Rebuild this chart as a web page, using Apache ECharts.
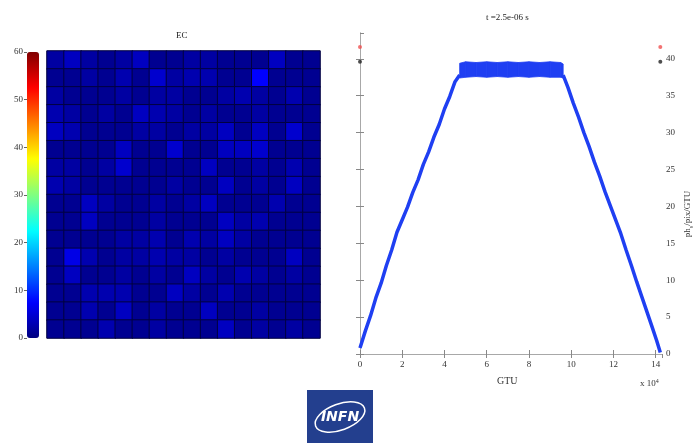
<!DOCTYPE html>
<html>
<head>
<meta charset="utf-8">
<script src="https://cdn.jsdelivr.net/npm/echarts@6/dist/echarts.min.js"></script>
<style>
  html, body { margin: 0; padding: 0; background: #ffffff; }
  #chart { width: 699px; height: 443px; }
</style>
</head>
<body>
<div id="chart"></div>
<script>
// Focal-surface counts (EC, 16 x 16 pixels), rows listed top to bottom
const ecRows = [
  [2.0,3.8,2.0,1.0,2.0,3.8,1.0,1.0,2.0,2.0,1.0,1.0,1.0,3.8,1.0,1.0],
  [1.0,1.0,2.0,1.0,2.8,1.0,4.6,2.0,2.8,2.8,1.0,1.0,7.5,1.0,1.0,1.0],
  [2.0,1.0,1.0,1.0,2.0,1.0,2.0,2.0,1.0,1.0,2.0,2.8,2.0,1.0,2.8,1.0],
  [2.8,2.0,1.0,2.0,1.0,3.8,2.8,2.0,1.0,2.0,1.0,1.0,2.0,1.0,1.0,1.0],
  [3.8,2.8,1.0,1.0,1.0,2.0,2.0,1.0,2.0,2.0,3.8,1.0,3.8,1.0,4.6,1.0],
  [1.0,1.0,1.0,1.0,3.8,1.0,1.0,4.6,1.0,1.0,3.8,3.8,4.6,1.0,1.0,1.0],
  [2.0,2.0,1.0,2.0,4.6,1.0,1.0,1.0,1.0,3.8,1.0,1.0,2.0,1.0,2.8,1.0],
  [2.8,2.0,1.0,1.0,1.0,1.0,1.0,2.0,1.0,1.0,3.8,1.0,2.0,1.0,3.8,1.0],
  [1.0,1.0,3.8,2.0,1.0,1.0,2.0,1.0,2.0,3.8,1.0,1.0,1.0,2.8,1.0,1.0],
  [1.0,1.0,3.8,1.0,1.0,1.0,2.0,1.0,1.0,1.0,3.8,2.0,2.8,1.0,1.0,1.0],
  [1.0,1.0,1.0,1.0,2.0,2.0,2.8,1.0,2.8,2.0,3.8,2.0,1.0,1.0,1.0,1.0],
  [1.0,6.0,2.8,1.0,2.0,2.0,2.8,2.0,2.0,1.0,2.0,1.0,1.0,1.0,3.8,1.0],
  [1.0,3.8,1.0,1.0,2.0,1.0,2.0,1.0,3.8,2.0,1.0,2.8,2.0,1.0,2.0,1.0],
  [1.0,1.0,2.8,2.8,2.8,1.0,1.0,3.8,2.0,1.0,2.8,1.0,1.0,1.0,1.0,1.0],
  [1.0,1.0,2.8,1.0,3.8,1.0,2.0,1.0,1.0,3.8,1.0,1.0,2.0,1.0,1.0,1.0],
  [1.0,1.0,1.0,2.8,1.0,1.0,2.0,1.0,1.0,1.0,3.8,1.0,2.0,1.0,2.0,1.0]
];
const colorbarTicks = [0, 10, 20, 30, 40, 50, 60];

// Light curve, GTU in units of 1e4
const riseGtu = [0, 0.25, 0.5, 0.75, 1.0, 1.25, 1.5, 1.75, 2.0, 2.25, 2.5, 2.75, 3.0, 3.25, 3.5, 3.75, 4.0, 4.25, 4.5, 4.72];
const riseCounts = [0.8, 3.1, 5.2, 7.6, 9.6, 12.0, 14.1, 16.5, 18.2, 19.9, 21.9, 23.6, 25.7, 27.4, 29.4, 31.1, 33.2, 34.9, 36.9, 37.8];
const plateauGtu = [4.72, 5.0, 5.5, 6.0, 6.5, 7.0, 7.5, 8.0, 8.5, 9.0, 9.5, 9.62];
const plateauLow = [37.4, 37.5, 37.6, 37.5, 37.6, 37.5, 37.6, 37.5, 37.6, 37.5, 37.5, 37.4];
const plateauHigh = [39.4, 39.6, 39.5, 39.6, 39.5, 39.6, 39.5, 39.6, 39.5, 39.6, 39.5, 39.3];
const fallGtu = [9.62, 9.85, 10.1, 10.35, 10.6, 10.85, 11.1, 11.35, 11.6, 11.85, 12.1, 12.35, 12.6, 12.85, 13.1, 13.35, 13.6, 13.85, 14.05, 14.22];
const fallCounts = [37.8, 36.1, 34.0, 32.1, 30.0, 28.1, 26.0, 24.1, 22.0, 20.1, 18.2, 16.3, 14.1, 12.0, 9.8, 7.7, 5.6, 3.5, 1.8, 0.2];
const maxMarks = [[0.0, 39.6], [14.22, 39.6]];
const thresholdMarks = [[0.0, 41.6], [14.22, 41.6]];
const gtuTicks = [0, 2, 4, 6, 8, 10, 12, 14];

const jet = ['#000080', '#0000ff', '#0080ff', '#00ffff', '#80ff80', '#ffff00', '#ff8000', '#ff0000', '#800000'];
const serif = 'Liberation Serif';
const lineBlue = '#1f3ff2';
const boxGray = '#a8a8a8';

const ecData = [];
ecRows.forEach((row, r) => row.forEach((v, c) => ecData.push([c, r, v])));
const idx = Array.from({ length: 16 }, (_, i) => i);

// one band segment per pair of neighbouring plateau samples
const plateauSegments = plateauGtu.slice(0, -1).map((x, i) => [
  x, plateauGtu[i + 1], plateauLow[i], plateauLow[i + 1], plateauHigh[i], plateauHigh[i + 1]
]);

const chart = echarts.init(document.getElementById('chart'), null, { renderer: 'canvas' });

const tickFont = { fontFamily: serif, fontSize: 9, color: '#333' };

chart.setOption({
  animation: false,
  backgroundColor: '#ffffff',
  grid: [
    { left: 47, top: 51, width: 273, height: 287, show: true, borderColor: '#d0d0d0', borderWidth: 1, backgroundColor: 'transparent' },
    { left: 27, top: 52, width: 12, height: 286 },
    { left: 360, top: 33, width: 302, height: 321 }
  ],
  xAxis: [
    { gridIndex: 0, type: 'category', data: idx, show: false },
    { gridIndex: 1, type: 'value', show: false },
    {
      gridIndex: 2, type: 'value', min: 0, max: 14.3, interval: 2, position: 'bottom',
      axisLine: { lineStyle: { color: boxGray } },
      axisTick: { inside: true, length: 4, lineStyle: { color: '#888' } },
      axisLabel: { ...tickFont, margin: 6, showMaxLabel: false,
        formatter: v => gtuTicks.includes(v) ? String(v) : '' },
      splitLine: { show: false }
    },
    {
      gridIndex: 2, type: 'value', min: 0, max: 14.3, interval: 2, position: 'top',
      axisLine: { lineStyle: { color: boxGray } },
      axisTick: { inside: true, length: 4, lineStyle: { color: '#888' } },
      axisLabel: { show: false }, splitLine: { show: false }
    }
  ],
  yAxis: [
    { gridIndex: 0, type: 'category', data: idx, inverse: true, show: false },
    {
      gridIndex: 1, type: 'value', min: 0, max: 60, interval: 10, position: 'left',
      axisLine: { show: false },
      axisTick: { show: true, length: 3, lineStyle: { color: '#666' } },
      axisLabel: { ...tickFont, margin: 4, formatter: v => colorbarTicks.includes(v) ? String(v) : '' },
      splitLine: { show: false }
    },
    {
      gridIndex: 2, type: 'value', min: 0, max: 43.5, interval: 5, position: 'right',
      axisLine: { show: true, lineStyle: { color: boxGray } },
      axisTick: { inside: true, length: 4, lineStyle: { color: '#888' } },
      axisLabel: { ...tickFont, margin: 4, showMaxLabel: false },
      splitLine: { show: false }
    },
    {
      gridIndex: 2, type: 'value', min: 0, max: 43.5, interval: 5, position: 'left',
      axisLine: { show: true, lineStyle: { color: boxGray } },
      axisTick: { inside: true, length: 4, lineStyle: { color: '#888' } },
      axisLabel: { show: false }, splitLine: { show: false }
    }
  ],
  visualMap: {
    type: 'continuous', seriesIndex: 0, min: 0, max: 60,
    calculable: false, showLabel: false, text: ['', ''],
    left: 27, top: 52, itemWidth: 12, itemHeight: 286, padding: 0,
    inRange: { color: jet }
  },
  series: [
    {
      type: 'heatmap', xAxisIndex: 0, yAxisIndex: 0, data: ecData,
      itemStyle: { borderColor: '#000040', borderWidth: 1 },
      emphasis: { disabled: true }
    },
    {
      type: 'line', xAxisIndex: 2, yAxisIndex: 2, showSymbol: false,
      data: riseGtu.map((x, i) => [x, riseCounts[i]]),
      lineStyle: { color: lineBlue, width: 3.5 }
    },
    {
      type: 'custom', xAxisIndex: 2, yAxisIndex: 2, data: plateauSegments,
      encode: { x: [0, 1], y: [2, 3, 4, 5] },
      renderItem: (params, api) => {
        const p1 = api.coord([api.value(0), api.value(4)]);
        const p2 = api.coord([api.value(1), api.value(5)]);
        const p3 = api.coord([api.value(1), api.value(3)]);
        const p4 = api.coord([api.value(0), api.value(2)]);
        return {
          type: 'polygon',
          shape: { points: [p1, p2, p3, p4] },
          style: { fill: lineBlue, stroke: lineBlue, lineWidth: 0.8 }
        };
      }
    },
    {
      type: 'line', xAxisIndex: 2, yAxisIndex: 2, showSymbol: false,
      data: fallGtu.map((x, i) => [x, fallCounts[i]]),
      lineStyle: { color: lineBlue, width: 3.5 }
    },
    {
      type: 'scatter', xAxisIndex: 2, yAxisIndex: 2, data: maxMarks,
      symbolSize: 4, itemStyle: { color: '#222' }
    },
    {
      type: 'scatter', xAxisIndex: 2, yAxisIndex: 2, data: thresholdMarks,
      symbolSize: 4, itemStyle: { color: '#f05050' }
    }
  ],
  graphic: [
    { type: 'text', left: 176, top: 31, style: { text: 'EC', font: '9px "Liberation Serif"', fill: '#222' } },
    { type: 'text', left: 486, top: 13, style: { text: 't =2.5e-06 s', font: '9px "Liberation Serif"', fill: '#222' } },
    { type: 'text', left: 497, top: 376, style: { text: 'GTU', font: '10px "Liberation Serif"', fill: '#333' } },
    {
      type: 'text', left: 640, top: 378,
      style: {
        text: 'x 10{sup|4}', font: '9px "Liberation Serif"', fill: '#333',
        rich: { sup: { fontSize: 6, verticalAlign: 'top', padding: [0, 0, 6, 0], fontFamily: serif } }
      }
    },
    {
      type: 'text', x: 688, y: 214, rotation: Math.PI / 2,
      style: {
        text: 'ph{sub|s}/pix/GTU', font: '9px "Liberation Serif"', fill: '#333',
        align: 'center', verticalAlign: 'middle',
        rich: { sub: { fontSize: 6, fontFamily: serif, padding: [6, 0, 0, 0] } }
      }
    },
    {
      type: 'group', left: 307, top: 390,
      children: [
        { type: 'rect', shape: { x: 0, y: 0, width: 66, height: 53 }, style: { fill: '#233f8e' } },
        { type: 'ellipse', shape: { cx: 33, cy: 27, rx: 26, ry: 13 }, rotation: 0.35, originX: 33, originY: 27,
          style: { fill: 'none', stroke: '#ffffff', lineWidth: 1.5 } },
        { type: 'text', x: 33, y: 27, style: { text: 'INFN', font: 'italic bold 14px "DejaVu Sans"', fill: '#ffffff', align: 'center', verticalAlign: 'middle' } }
      ]
    }
  ]
});
</script>
</body>
</html>
